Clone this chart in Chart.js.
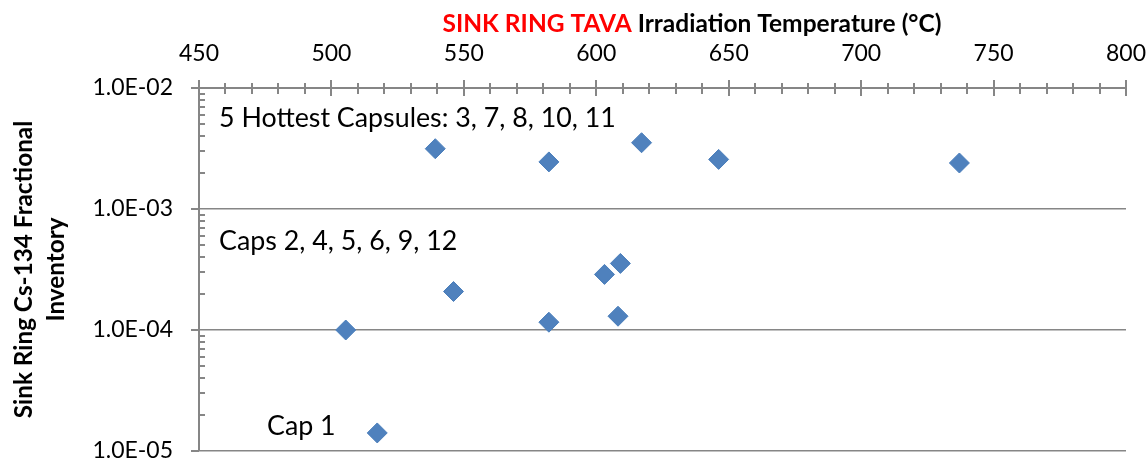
<!DOCTYPE html>
<html><head><meta charset="utf-8">
<script src="https://cdn.jsdelivr.net/npm/chart.js@4/dist/chart.umd.min.js"></script>
<style>html,body{margin:0;padding:0;background:#fff;}#wrap{width:1147px;height:462px;position:relative;}</style>
</head><body><div id="wrap"><canvas id="c"></canvas></div>
<script>
// ---- data ----
const temperatures = [539.2, 582.1, 617.1, 646.2, 737.1, 505.4, 546.1, 582.1, 603.1, 609.1, 608.2, 517.3];
const inventories  = [3.15e-3, 2.45e-3, 3.53e-3, 2.57e-3, 2.40e-3, 1.00e-4, 2.08e-4, 1.16e-4, 2.88e-4, 3.55e-4, 1.30e-4, 1.41e-5];
const xTickValues = [450, 500, 550, 600, 650, 700, 750, 800];
const xTickLabels = ['450', '500', '550', '600', '650', '700', '750', '800'];
const xMinorStep = 10;
const yTickValues = [1e-5, 1e-4, 1e-3, 1e-2];
const yTickLabels = ['1.0E-05', '1.0E-04', '1.0E-03', '1.0E-02'];
const yMinorMultipliers = [2, 3, 4, 5, 6, 7, 8, 9];
const titleRed = 'SINK RING TAVA';
const titleBlack = ' Irradiation Temperature (°C)';
const yTitle = ['Sink Ring Cs-134 Fractional', 'Inventory'];
const noteTexts = ['5 Hottest Capsules: 3, 7, 8, 10, 11', 'Caps 2, 4, 5, 6, 9, 12', 'Cap 1'];

// ---- styles ----
const FONT = 'Lato, "Open Sans", sans-serif';
const AXIS = '#868686';
const notePos = [[219, 127], [219, 250], [267, 435]];

const decor = {
  id: 'decor',
  afterDraw(chart) {
    const {ctx, chartArea: a, scales: {x, y}} = chart;
    ctx.save();
    ctx.strokeStyle = AXIS; ctx.lineWidth = 2;
    ctx.beginPath();
    for (let v = x.min; v <= x.max + 1e-9; v += xMinorStep) {
      const px = Math.round(x.getPixelForValue(v));
      const major = xTickValues.includes(v);
      ctx.moveTo(px, a.top - (major ? 8 : 5));
      ctx.lineTo(px, a.top + (major ? 8 : 6));
    }
    yTickValues.forEach(v => {
      const py = Math.round(y.getPixelForValue(v));
      ctx.moveTo(a.left - 8, py); ctx.lineTo(a.left, py);
    });
    yTickValues.slice(0, -1).forEach(d => {
      yMinorMultipliers.forEach(m => {
        const py = Math.round(y.getPixelForValue(d * m));
        ctx.moveTo(a.left, py); ctx.lineTo(a.left + 6, py);
      });
    });
    ctx.stroke();
    // title
    ctx.font = 'bold 24.5px ' + FONT;
    ctx.textBaseline = 'alphabetic';
    const w1 = ctx.measureText(titleRed).width, w2 = ctx.measureText(titleBlack).width;
    const cx = 692, start = cx - (w1 + w2) / 2;
    ctx.textAlign = 'left';
    ctx.fillStyle = '#ff0000'; ctx.fillText(titleRed, start, 31.5);
    ctx.fillStyle = '#000000'; ctx.fillText(titleBlack, start + w1, 31.5);
    // notes
    ctx.font = '26.8px ' + FONT;
    ctx.fillStyle = '#000';
    noteTexts.forEach((t, i) => ctx.fillText(t, notePos[i][0], notePos[i][1]));
    ctx.restore();
  }
};

new Chart(document.getElementById('c'), {
  type: 'scatter',
  data: {
    datasets: [{
      data: temperatures.map((t, i) => ({x: t, y: inventories[i]})),
      pointStyle: 'rectRot',
      pointRadius: 10,
      pointHoverRadius: 10,
      backgroundColor: '#4F81BD',
      borderColor: '#4A7EBB',
      borderWidth: 1
    }]
  },
  options: {
    responsive: true,
    maintainAspectRatio: false,
    animation: false,
    events: [],
    layout: {padding: {top: 0, left: 0, right: 21, bottom: 10}},
    plugins: {legend: {display: false}, tooltip: {enabled: false}},
    scales: {
      x: {
        type: 'linear', position: 'top', min: 450, max: 800,
        afterBuildTicks: s => { s.ticks = xTickValues.map(v => ({value: v})); },
        afterFit: s => { s.height = 88; s.paddingLeft = 0; s.paddingRight = 0; },
        grid: {display: false, drawTicks: false},
        border: {display: true, color: AXIS, width: 2},
        ticks: {
          padding: 21, color: '#000', autoSkip: false, maxRotation: 0,
          font: {family: FONT, size: 23},
          callback: v => xTickLabels[xTickValues.indexOf(v)]
        }
      },
      y: {
        type: 'logarithmic', position: 'left', min: 1e-5, max: 1e-2,
        afterBuildTicks: s => { s.ticks = yTickValues.map(v => ({value: v})); },
        afterFit: s => { s.width = 199; s.paddingTop = 0; s.paddingBottom = 0; },
        grid: {color: AXIS, lineWidth: 1.5, drawTicks: false},
        border: {display: true, color: AXIS, width: 2},
        ticks: {
          padding: 26, color: '#000', autoSkip: false,
          font: {family: FONT, size: 23},
          callback: v => yTickLabels[yTickValues.findIndex(t => Math.abs(t - v) / t < 1e-6)]
        },
        title: {
          display: true, text: yTitle, color: '#000',
          font: {family: FONT, size: 24.3, weight: 'bold', lineHeight: 32 / 24.3},
          padding: {top: 8, bottom: 0}
        }
      }
    }
  },
  plugins: [decor]
});
</script>
</body></html>
